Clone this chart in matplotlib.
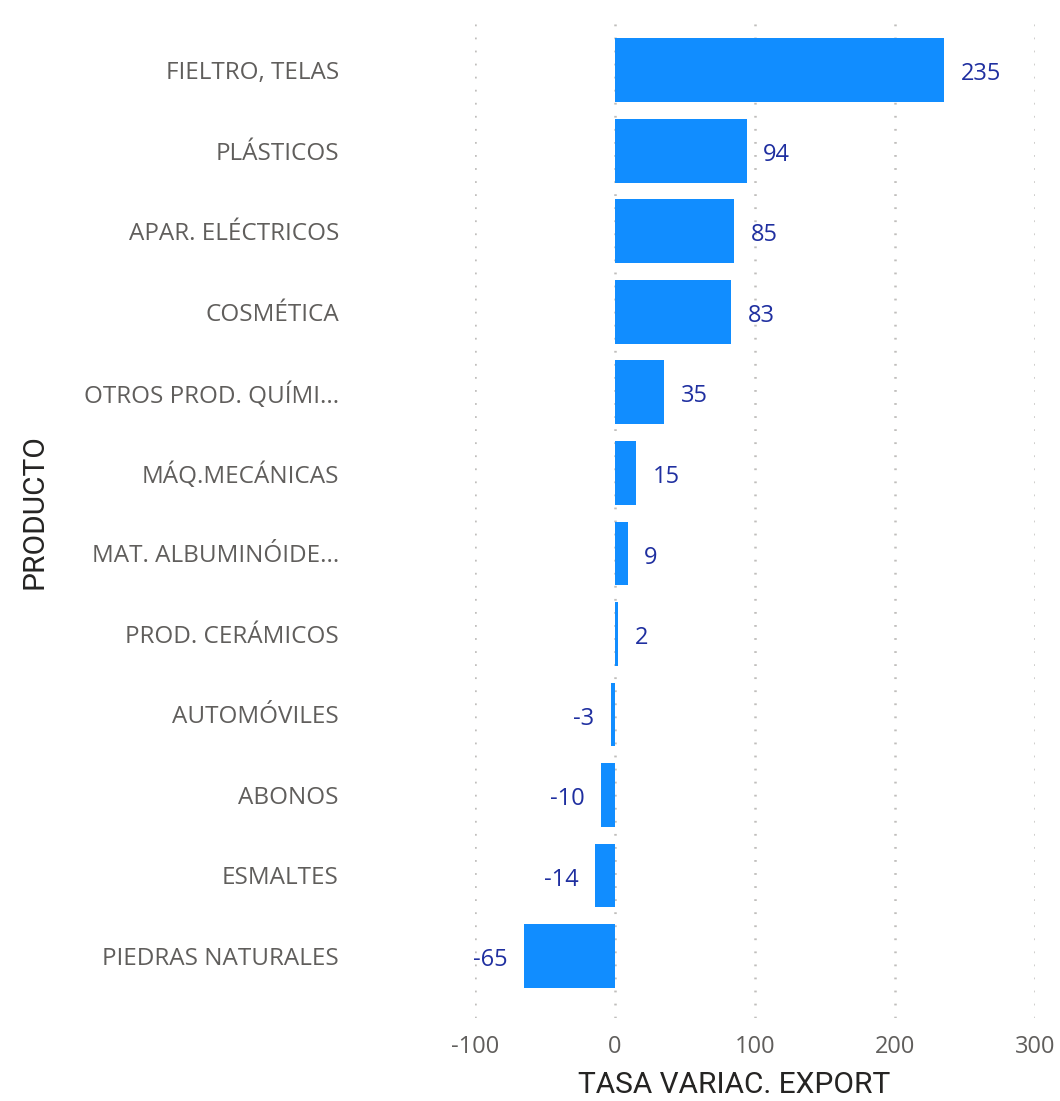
import matplotlib
matplotlib.use("Agg")
import matplotlib.pyplot as plt

productos = [
    "FIELTRO, TELAS", "PLÁSTICOS", "APAR. ELÉCTRICOS", "COSMÉTICA",
    "OTROS PROD. QUÍMI...", "MÁQ.MECÁNICAS", "MAT. ALBUMINÓIDE...",
    "PROD. CERÁMICOS", "AUTOMÓVILES", "ABONOS", "ESMALTES",
    "PIEDRAS NATURALES",
]
tasa = [235, 94, 85, 83, 35, 15, 9, 2, -3, -10, -14, -65]
xticks = [-100, 0, 100, 200, 300]

BAR = "#118DFF"
LABEL = "#1F2FA0"
TICK = "#605E5C"
TITLE = "#252423"
GRID = "#C0BEBC"

plt.rcParams["font.family"] = ["Open Sans", "DejaVu Sans"]
plt.rcParams["lines.scale_dashes"] = False

fig = plt.figure(figsize=(10.6, 11.01), dpi=100)
ax = fig.add_axes([475 / 1060, 1 - 1018 / 1101, 560 / 1060, 1005 / 1101])

pos = list(range(len(productos)))
ax.barh(pos, tasa, height=0.79, color=BAR, zorder=2)

ax.set_xlim(-100, 300)
ax.set_ylim(11.77, -0.71)
ax.set_xticks(xticks)
ax.set_xticklabels([str(t) for t in xticks], color=TICK, fontsize=17)
ax.set_yticks(pos)
ax.set_yticklabels(productos, color=TICK, fontsize=17.5)
ax.tick_params(axis="y", length=0, pad=98)
ax.tick_params(axis="x", length=0, pad=12)

ax.grid(axis="x", color=GRID, linewidth=1.8, linestyle=(0, (1.3, 8.1)), zorder=0)
ax.grid(axis="y", visible=False)
for sp in ax.spines.values():
    sp.set_visible(False)

# value labels just past the bar end
for y, v in zip(pos, tasa):
    if v >= 0:
        ax.annotate(str(v), (v, y), xytext=(12, -3), textcoords="offset points",
                    ha="left", va="center", color=LABEL, fontsize=17)
    else:
        ax.annotate(str(v), (v, y), xytext=(-12, -3), textcoords="offset points",
                    ha="right", va="center", color=LABEL, fontsize=17)

ax.set_xlabel("TASA VARIAC. EXPORT", color=TITLE, fontsize=21.5,
              family=["Roboto", "DejaVu Sans"])
ax.xaxis.set_label_coords(0.4625, -0.053)
fig.text(35 / 1060, 1 - 512 / 1101, "PRODUCTO", rotation=90, color=TITLE,
         fontsize=21.5, family=["Roboto", "DejaVu Sans"], ha="center", va="center")

fig.savefig("out.png", dpi=100)
